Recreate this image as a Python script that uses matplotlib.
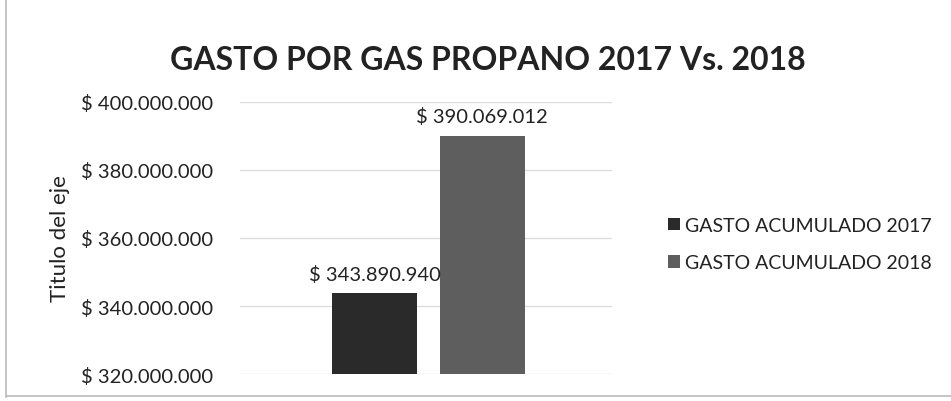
import numpy as np
import matplotlib.pyplot as plt
from matplotlib.lines import Line2D

# data
series = ['GASTO ACUMULADO 2017', 'GASTO ACUMULADO 2018']
values = [343890940, 390069012]
colors = ['#2a2a2a', '#5e5e5e']
yticks = [320000000, 340000000, 360000000, 380000000, 400000000]


def pesos(v):
    return '$ ' + f'{v:,.0f}'.replace(',', '.')


plt.rcParams['font.family'] = ['Lato', 'DejaVu Sans']

fig = plt.figure(figsize=(9.51, 4.02), dpi=100)
ax = fig.add_axes([0.252, 0.067, 0.392, 0.677])

offsets = [-0.137, 0.151]
width = 0.228
for off, v, c, name in zip(offsets, values, colors, series):
    ax.bar(off, v - yticks[0], bottom=yticks[0], width=width, color=c, label=name, zorder=2)
    ax.text(off, v + 3000000, pesos(v), ha='center', va='bottom', fontsize=14.5, color='#222222')

ax.set_xlim(-0.5, 0.5)
ax.set_ylim(yticks[0], yticks[-1])
ax.set_yticks(yticks)
ax.set_yticklabels([pesos(t) for t in yticks], fontsize=14.5, color='#222222')
ax.set_xticks([])
ax.tick_params(axis='y', length=0, pad=19)
ax.grid(axis='y', color='#dddddd', linewidth=1, zorder=0)
for s in ax.spines.values():
    s.set_visible(False)

ax.set_ylabel('Titulo del eje', fontsize=16, color='#222222', labelpad=8)

fig.text(0.513, 0.85, 'GASTO POR GAS PROPANO 2017 Vs. 2018', ha='center', va='center',
         fontsize=23, fontweight='bold', color='#222222')

fig.legend(loc='center left', bbox_to_anchor=(0.684, 0.39), frameon=False, fontsize=14,
           handlelength=0.6, handleheight=0.6, handletextpad=0.3, labelspacing=1.05,
           labelcolor='#222222')

# chart border, only left and bottom show in the scan
fig.add_artist(Line2D([0.006, 0.006], [0.01, 1.0], color='#bbbbbb', lw=1.2))
fig.add_artist(Line2D([0.006, 1.0], [0.013, 0.013], color='#bbbbbb', lw=1.2))

fig.savefig('out.png', dpi=100, facecolor='white')
